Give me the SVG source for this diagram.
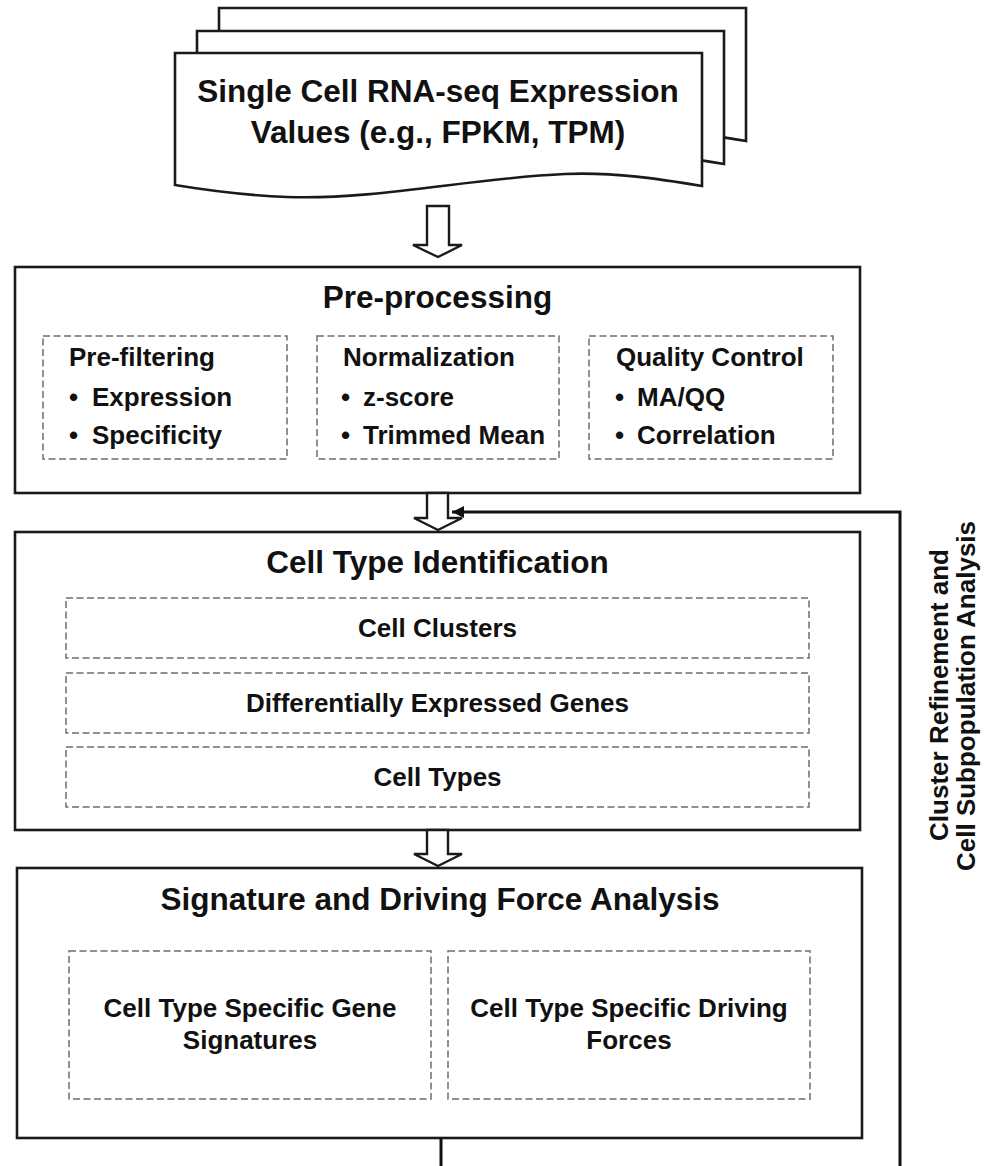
<svg xmlns="http://www.w3.org/2000/svg" width="996" height="1166" viewBox="0 0 996 1166">
  <style>
    .box { fill: #fff; stroke: #1a1a1a; stroke-width: 2.6; }
    .dash { fill: none; stroke: #6e6e6e; stroke-width: 1.5; stroke-dasharray: 7 3.5; }
    .page { fill: #fff; stroke: #1a1a1a; stroke-width: 2.6; stroke-linejoin: miter; }
    .hollow { fill: #fff; stroke: #1a1a1a; stroke-width: 2.4; stroke-linejoin: miter; }
    .line { fill: none; stroke: #111; stroke-width: 3; }
    text { font-family: "Liberation Sans", Arial, sans-serif; font-weight: bold; fill: #111; }
    .t-title { font-size: 31.5px; text-anchor: middle; }
    .t-doc { font-size: 31.5px; text-anchor: middle; }
    .t-sub { font-size: 26px; }
    .t-mid { font-size: 26px; text-anchor: middle; }
  </style>
  <defs>
    <path id="docshape" d="M175,53 H702 V186 C660,179 615,172 565,174 C470,178 380,200 287,197 C240,195 205,190 175,185 Z"/>
    <marker id="head" viewBox="0 0 10 10" refX="10" refY="5" markerWidth="4" markerHeight="4" orient="auto" markerUnits="strokeWidth">
      <path d="M0,0 L10,5 L0,10 Z" fill="#111"/>
    </marker>
  </defs>

  <g id="input-document">
    <use href="#docshape" class="page" transform="translate(44,-45)"/>
    <use href="#docshape" class="page" transform="translate(22,-22)"/>
    <use href="#docshape" class="page"/>
    <text class="t-doc" x="438" y="102">Single Cell RNA-seq Expression</text>
    <text class="t-doc" x="438" y="143">Values (e.g., FPKM, TPM)</text>
  </g>

  <g id="preprocessing">
    <rect class="box" x="15" y="267" width="845" height="226"/>
    <text class="t-title" x="437.5" y="308">Pre-processing</text>
    <g id="prefiltering">
      <rect class="dash" x="43" y="336" width="244" height="123"/>
      <text class="t-sub" x="69" y="366">Pre-filtering</text>
      <text class="t-sub" y="406"><tspan x="69">•</tspan><tspan x="92">Expression</tspan></text>
      <text class="t-sub" y="444"><tspan x="69">•</tspan><tspan x="92">Specificity</tspan></text>
    </g>
    <g id="normalization">
      <rect class="dash" x="317" y="336" width="242" height="123"/>
      <text class="t-sub" x="343" y="366">Normalization</text>
      <text class="t-sub" y="406"><tspan x="341">•</tspan><tspan x="363">z-score</tspan></text>
      <text class="t-sub" y="444"><tspan x="341">•</tspan><tspan x="363">Trimmed Mean</tspan></text>
    </g>
    <g id="quality-control">
      <rect class="dash" x="589" y="336" width="244" height="123"/>
      <text class="t-sub" x="616" y="366">Quality Control</text>
      <text class="t-sub" y="406"><tspan x="615">•</tspan><tspan x="637">MA/QQ</tspan></text>
      <text class="t-sub" y="444"><tspan x="615">•</tspan><tspan x="637">Correlation</tspan></text>
    </g>
  </g>

  <g id="cell-type-identification">
    <rect class="box" x="15" y="532" width="845" height="298"/>
    <text class="t-title" x="437.5" y="573">Cell Type Identification</text>
    <g id="cell-clusters">
      <rect class="dash" x="66" y="598" width="743" height="60"/>
      <text class="t-mid" x="437.5" y="637">Cell Clusters</text>
    </g>
    <g id="deg">
      <rect class="dash" x="66" y="673" width="743" height="60"/>
      <text class="t-mid" x="437.5" y="712">Differentially Expressed Genes</text>
    </g>
    <g id="cell-types">
      <rect class="dash" x="66" y="747" width="743" height="60"/>
      <text class="t-mid" x="437.5" y="786">Cell Types</text>
    </g>
  </g>

  <g id="signature-analysis">
    <rect class="box" x="17" y="868" width="845" height="270"/>
    <text class="t-title" x="440" y="910">Signature and Driving Force Analysis</text>
    <g id="gene-signatures">
      <rect class="dash" x="69" y="951" width="362" height="148"/>
      <text class="t-mid" x="250" y="1017">Cell Type Specific Gene</text>
      <text class="t-mid" x="250" y="1049">Signatures</text>
    </g>
    <g id="driving-forces">
      <rect class="dash" x="448" y="951" width="362" height="148"/>
      <text class="t-mid" x="629" y="1017">Cell Type Specific Driving</text>
      <text class="t-mid" x="629" y="1049">Forces</text>
    </g>
  </g>

  <g id="connectors">
    <polygon class="hollow" points="427,206 449,206 449,245 462,245 438,257 413,245 427,245"/>
    <polygon class="hollow" points="427,493 448,493 448,518 462,518 438,530 414,518 427,518"/>
    <polygon class="hollow" points="427,830 448,830 448,854 462,854 438,866 414,854 427,854"/>
    <line class="line" x1="441" y1="1138" x2="441" y2="1166"/>
    <polyline class="line" points="900,1166 900,512 452,512" marker-end="url(#head)"/>
  </g>

  <g id="feedback-label">
    <text class="t-mid" transform="translate(948,695) rotate(-90)">Cluster Refinement and</text>
    <text class="t-mid" transform="translate(975,696) rotate(-90)">Cell Subpopulation Analysis</text>
  </g>
</svg>
